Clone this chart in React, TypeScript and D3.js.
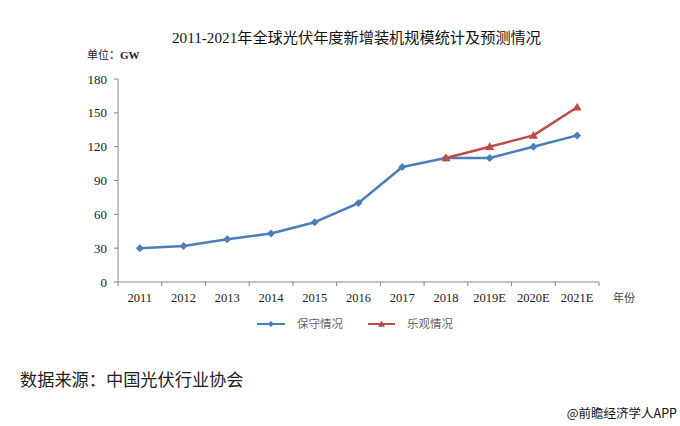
import React from "react";
import * as d3 from "d3";

const categories = ["2011", "2012", "2013", "2014", "2015", "2016", "2017", "2018", "2019E", "2020E", "2021E"];
const conservative = [30, 32, 38, 43, 53, 70, 102, 110, 110, 120, 130];
const optimisticCats = ["2018", "2019E", "2020E", "2021E"];
const optimistic = [110, 120, 130, 155];
const yTicks = [0, 30, 60, 90, 120, 150, 180];

const W = 680, H = 426;
const left = 118, right = 599, top = 79, bottom = 282;
const BLUE = "#4a7ebb";
const RED = "#be4b48";
const AXIS = "#868686";
const SERIF = "'Liberation Serif', 'Times New Roman', 'Noto Sans CJK SC', serif";
const CJK = "'Noto Sans CJK SC', sans-serif";

export default function App() {
  const x = d3.scaleBand<string>().domain(categories).range([left, right]);
  const y = d3.scaleLinear().domain([0, 180]).range([bottom, top]);
  const cx = (c: string) => (x(c) as number) + x.bandwidth() / 2;
  const line = d3.line<[string, number]>().x((d) => cx(d[0])).y((d) => y(d[1]));
  const consData: [string, number][] = categories.map((c, i) => [c, conservative[i]]);
  const optData: [string, number][] = optimisticCats.map((c, i) => [c, optimistic[i]]);
  const diamond = (px: number, py: number, r: number) =>
    `M${px},${py - r}L${px + r},${py}L${px},${py + r}L${px - r},${py}Z`;
  const tri = (px: number, py: number, r: number) =>
    `M${px},${py - r}L${px + r},${py + r * 0.75}L${px - r},${py + r * 0.75}Z`;
  const boundaries = categories.map((c) => x(c) as number).concat([right]);

  return (
    <svg width={W} height={H} style={{ position: "absolute", left: 0, top: 0, background: "#fff" }}>
      <rect width={W} height={H} fill="#fff" />
      <text x={356.5} y={43} textAnchor="middle" fontFamily={SERIF} fontSize={15.2} fill="#111">
        2011-2021年全球光伏年度新增装机规模统计及预测情况
      </text>
      <text x={87} y={59} fontFamily={SERIF} fontSize={11} fill="#222" fontWeight="bold">
        <tspan fontFamily={CJK} fontWeight="normal">单位：</tspan>GW
      </text>
      {/* y axis */}
      <line x1={left} x2={left} y1={top} y2={bottom} stroke={AXIS} strokeWidth={1} />
      {yTicks.map((t) => (
        <g key={t}>
          <line x1={left - 4} x2={left} y1={y(t)} y2={y(t)} stroke={AXIS} />
          <text x={107} y={y(t) + 4.5} textAnchor="end" fontFamily={SERIF} fontSize={13} fill="#222">
            {t}
          </text>
        </g>
      ))}
      {/* x axis */}
      <line x1={left} x2={right} y1={bottom} y2={bottom} stroke={AXIS} strokeWidth={1} />
      {boundaries.map((b, i) => (
        <line key={i} x1={b} x2={b} y1={bottom} y2={bottom + 4} stroke={AXIS} />
      ))}
      {categories.map((c) => (
        <text key={c} x={cx(c)} y={302} textAnchor="middle" fontFamily={SERIF} fontSize={12.5} fill="#222">
          {c}
        </text>
      ))}
      <text x={613} y={302} fontFamily={CJK} fontSize={11} fill="#444">年份</text>
      {/* series */}
      <path d={line(consData) as string} fill="none" stroke={BLUE} strokeWidth={2.5} strokeLinejoin="round" />
      {consData.map((d) => (
        <path key={d[0]} d={diamond(cx(d[0]), y(d[1]), 4)} fill={BLUE} />
      ))}
      <path d={line(optData) as string} fill="none" stroke={RED} strokeWidth={2.5} strokeLinejoin="round" />
      {optData.map((d) => (
        <path key={d[0]} d={tri(cx(d[0]), y(d[1]), 4.5)} fill={RED} />
      ))}
      {/* legend */}
      <line x1={257} x2={285} y1={324} y2={324} stroke={BLUE} strokeWidth={2} />
      <path d={diamond(271, 324, 3)} fill={BLUE} />
      <text x={297} y={328} fontFamily={CJK} fontSize={11.5} fill="#666">保守情况</text>
      <line x1={368} x2={395} y1={324} y2={324} stroke={RED} strokeWidth={2} />
      <path d={tri(381.5, 324, 3.5)} fill={RED} />
      <text x={407} y={328} fontFamily={CJK} fontSize={11.5} fill="#666">乐观情况</text>
      {/* source */}
      <text x={20} y={386} fontFamily={CJK} fontSize={17.2} fill="#222">数据来源：中国光伏行业协会</text>
      <text x={677} y={418} textAnchor="end" fontFamily={CJK} fontSize={12.5} fill="#111">@前瞻经济学人APP</text>
    </svg>
  );
}
